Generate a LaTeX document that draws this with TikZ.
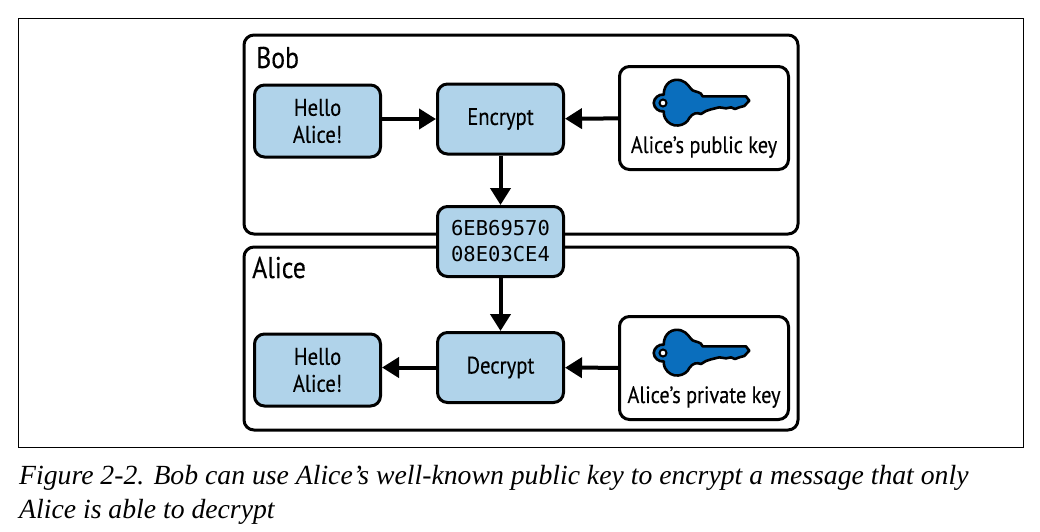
\documentclass[tikz,border=0pt]{standalone}
\usepackage{fontspec}
\setmainfont{Liberation Serif}
\setsansfont[FakeStretch=0.86,FakeBold=0.25]{PT Sans}
\setmonofont{DejaVu Sans Mono}
\usetikzlibrary{arrows.meta,positioning}

\definecolor{boxblue}{HTML}{B0D3EA}
\definecolor{keyblue}{HTML}{0A6EBD}

\tikzset{
    msgbox/.style={draw,line width=3pt,rounded corners=10pt,fill=boxblue,align=center,
                   font=\sffamily\fontsize{24}{27}\selectfont,inner sep=0pt,
                   minimum width=126pt},
    panel/.style={draw,line width=3pt,rounded corners=10pt,fill=white,inner sep=0pt},
    keybox/.style={draw,line width=3pt,rounded corners=10pt,fill=white,inner sep=0pt,
                   minimum width=169pt,minimum height=103pt},
    keytext/.style={font=\sffamily\fontsize{23.6}{27}\selectfont,inner sep=0pt},
    who/.style={font=\sffamily\fontsize{30}{33}\selectfont,inner sep=0pt,anchor=base west},
    flow/.style={line width=4pt,-{Triangle[length=17pt,width=20pt]}},
    keyshape/.pic={
        \draw[fill=keyblue,line width=2.6pt,line join=round,x=0.333pt,y=-0.333pt]
            (5,-20) -- (135,-20) -- (145,-7) -- (130,9) -- (115,13) -- (102,18) -- (90,13)
            -- (75,16) -- (55,13) -- (30,19) -- (15,24) -- (0,33)
            .. controls (-12,28) and (-25,30) .. (-35,45)
            .. controls (-45,70) and (-90,80) .. (-108,45)
            .. controls (-112,35) and (-112,30) .. (-112,25)
            .. controls (-125,28) and (-142,15) .. (-142,0)
            .. controls (-142,-15) and (-125,-28) .. (-112,-25)
            .. controls (-112,-60) and (-85,-75) .. (-60,-68)
            .. controls (-40,-62) and (-35,-45) .. (-25,-38)
            .. controls (-15,-32) and (0,-35) .. (5,-20) -- cycle;
        \draw[fill=white,line width=2pt] (-38pt,0pt) circle (3.5pt);
    }
}

\begin{document}
\begin{tikzpicture}[x=1pt,y=-1pt]
    \useasboundingbox (0,0) rectangle (1040,531);
    \node[draw,line width=1pt,minimum width=1005pt,minimum height=429pt,inner sep=0pt] (frame) at (520.5,232.5) {};

    % the two owners
    \node[panel,minimum width=554pt,minimum height=199pt] (bob) at (521,134.5) {};
    \node[panel,minimum width=554pt,minimum height=183pt] (alice) at (521,338.5) {};
    \node[who] (bobname) at (256,68) {Bob};
    \node[who] (alicename) at (252,278) {Alice};

    \node[msgbox,minimum height=72pt] (hellob) at (317.5,121) {Hello\\Alice!};
    \node[msgbox,minimum height=70pt] (encrypt) at (500.5,119) {Encrypt};
    \node[keybox] (pubkey) at (704,118) {};
    \pic at (701,103) {keyshape};
    \node[keytext] (publabel) at (704,147) {Alice’s public key};

    \node[msgbox,minimum height=70pt,font=\ttfamily\fontsize{20.5}{26}\selectfont] (cipher) at (500.5,241.5) {6EB69570\\08E03CE4};

    \node[msgbox,minimum height=72pt] (helloa) at (317.5,370) {Hello\\Alice!};
    \node[msgbox,minimum height=70pt] (decrypt) at (500.5,367.5) {Decrypt};
    \node[keybox] (privkey) at (704,368) {};
    \pic at (701,353) {keyshape};
    \node[keytext] (privlabel) at (704,397) {Alice’s private key};

    \draw[flow] (hellob.east |- encrypt) -- (encrypt);
    \draw[flow] (pubkey) -- (encrypt);
    \draw[flow] (encrypt) -- (cipher);
    \draw[flow] (cipher) -- (decrypt);
    \draw[flow] (privkey) -- (decrypt);
    \draw[flow] (decrypt) -- (helloa.east |- decrypt);

    \node[anchor=base west,inner sep=0pt,align=left,font=\rmfamily\itshape\fontsize{27.7}{34}\selectfont] (caption) at (19,518)
        {Figure 2-2. Bob can use Alice’s well-known public key to encrypt a message that only\\Alice is able to decrypt};
\end{tikzpicture}
\end{document}
